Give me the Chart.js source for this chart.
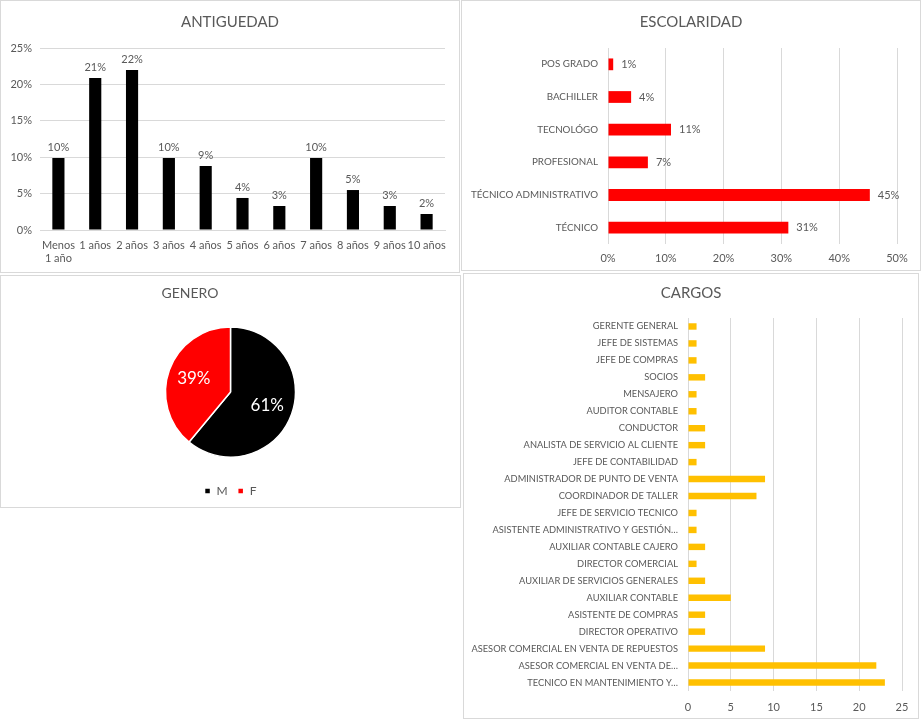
<!DOCTYPE html>
<html><head><meta charset="utf-8">
<script src="https://cdn.jsdelivr.net/npm/chart.js@4.4.0/dist/chart.umd.min.js"></script>
<style>
html,body{margin:0;padding:0;background:#fff;}
body{width:921px;height:720px;position:relative;overflow:hidden;}
.panel{position:absolute;border:1px solid #d9d9d9;box-sizing:border-box;background:#fff;}
.panel canvas{position:absolute;left:0;top:0;}
</style></head><body>
<div class="panel" style="left:0;top:0;width:460px;height:273px;"><canvas id="cA" width="458" height="271"></canvas></div>
<div class="panel" style="left:461px;top:0;width:460px;height:271px;"><canvas id="cB" width="458" height="269"></canvas></div>
<div class="panel" style="left:0;top:275px;width:461px;height:233px;"><canvas id="cC" width="459" height="231"></canvas></div>
<div class="panel" style="left:463px;top:273px;width:456px;height:446px;"><canvas id="cD" width="454" height="444"></canvas></div>
<script>
// ---------- DATA ----------
const antiguedadLabels = [['Menos','1 año'],'1 años','2 años','3 años','4 años','5 años','6 años','7 años','8 años','9 años','10 años'];
const antiguedadValues = [9.89, 20.88, 21.98, 9.89, 8.79, 4.40, 3.30, 9.89, 5.49, 3.30, 2.20];
const antiguedadTicks = [0, 5, 10, 15, 20, 25];

const escolaridadLabels = ['POS GRADO','BACHILLER','TECNOLÓGO','PROFESIONAL','TÉCNICO ADMINISTRATIVO','TÉCNICO'];
const escolaridadValues = [0.9, 4.0, 10.9, 6.9, 45.3, 31.2];
const escolaridadTicks = [0, 10, 20, 30, 40, 50];

const generoLabels = ['M','F'];
const generoValues = [61, 39];

const cargosLabels = ['GERENTE GENERAL','JEFE DE SISTEMAS','JEFE DE COMPRAS','SOCIOS','MENSAJERO','AUDITOR CONTABLE','CONDUCTOR','ANALISTA DE SERVICIO AL CLIENTE','JEFE DE CONTABILIDAD','ADMINISTRADOR DE PUNTO DE VENTA','COORDINADOR DE TALLER','JEFE DE SERVICIO TECNICO','ASISTENTE ADMINISTRATIVO Y GESTIÓN…','AUXILIAR CONTABLE CAJERO','DIRECTOR COMERCIAL','AUXILIAR DE SERVICIOS GENERALES','AUXILIAR CONTABLE','ASISTENTE DE COMPRAS','DIRECTOR OPERATIVO','ASESOR COMERCIAL EN VENTA DE REPUESTOS','ASESOR COMERCIAL EN VENTA DE…','TECNICO EN MANTENIMIENTO Y…'];
const cargosValues = [1,1,1,2,1,1,2,2,1,9,8,1,1,2,1,2,5,2,2,9,22,23];
const cargosTicks = [0, 5, 10, 15, 20, 25];

// ---------- STYLE ----------
const FONT = 'Lato, "Open Sans", sans-serif';
const TXT = '#595959';
const GRID = '#d9d9d9';
Chart.defaults.font.family = FONT;
Chart.defaults.color = TXT;
Chart.defaults.animation = false;

function pct(v){ return Math.round(v) + '%'; }

function labelsPlugin(mode, fmt, font, color, offset){
  return {
    id: 'lbl_' + mode,
    afterDatasetsDraw(chart){
      const ctx = chart.ctx;
      const meta = chart.getDatasetMeta(0);
      const data = chart.data.datasets[0].data;
      ctx.save();
      ctx.font = font; ctx.fillStyle = color;
      meta.data.forEach((el, i) => {
        const t = fmt(data[i]);
        if (mode === 'top') {
          ctx.textAlign = 'center'; ctx.textBaseline = 'bottom';
          ctx.fillText(t, el.x, el.y - offset);
        } else if (mode === 'end') {
          ctx.textAlign = 'left'; ctx.textBaseline = 'middle';
          ctx.fillText(t, el.x + offset, el.y);
        } else if (mode === 'arc') {
          const p = el.getProps(['x','y','startAngle','endAngle','outerRadius'], true);
          const m = (p.startAngle + p.endAngle) / 2;
          ctx.textAlign = 'center'; ctx.textBaseline = 'middle';
          ctx.fillText(t, p.x + Math.cos(m) * p.outerRadius * offset, p.y + Math.sin(m) * p.outerRadius * offset);
        }
      });
      ctx.restore();
    }
  };
}

function fixH(h, padRight){ return function(s){ s.height = h; if (padRight !== undefined) s.paddingRight = padRight; }; }
function fixW(w){ return function(s){ s.width = w; }; }

// ---------- ANTIGUEDAD ----------
new Chart(document.getElementById('cA'), {
  type: 'bar',
  data: { labels: antiguedadLabels, datasets: [{ data: antiguedadValues, backgroundColor: '#000000', barPercentage: 0.33, categoryPercentage: 1 }] },
  options: {
    responsive: false,
    layout: { padding: 0 },
    plugins: {
      legend: { display: false }, tooltip: { enabled: false },
      title: { display: true, text: 'ANTIGUEDAD', color: TXT, font: { size: 15, weight: 'normal' }, padding: { top: 12, bottom: 17 } }
    },
    scales: {
      x: {
        grid: { display: false, drawTicks: false }, border: { display: true, color: GRID },
        ticks: { font: { size: 11 }, color: TXT, padding: 9, maxRotation: 0, autoSkip: false },
        afterFit: fixH(42, 14)
      },
      y: {
        min: 0, max: 25,
        afterBuildTicks: s => { s.ticks = antiguedadTicks.map(v => ({ value: v })); },
        grid: { color: GRID, drawTicks: false }, border: { display: false },
        ticks: { font: { size: 11 }, color: TXT, padding: 8, callback: v => v + '%' },
        afterFit: fixW(39)
      }
    }
  },
  plugins: [labelsPlugin('top', pct, '11px ' + FONT, TXT, 5)]
});

// ---------- ESCOLARIDAD ----------
new Chart(document.getElementById('cB'), {
  type: 'bar',
  data: { labels: escolaridadLabels, datasets: [{ data: escolaridadValues, backgroundColor: '#ff0000', barPercentage: 0.36, categoryPercentage: 1 }] },
  options: {
    indexAxis: 'y',
    responsive: false,
    layout: { padding: 0 },
    plugins: {
      legend: { display: false }, tooltip: { enabled: false },
      title: { display: true, text: 'ESCOLARIDAD', color: TXT, font: { size: 15, weight: 'normal' }, padding: { top: 12, bottom: 17 } }
    },
    scales: {
      x: {
        min: 0, max: 50,
        afterBuildTicks: s => { s.ticks = escolaridadTicks.map(v => ({ value: v })); },
        grid: { color: GRID, drawTicks: false }, border: { display: false },
        ticks: { font: { size: 11 }, color: TXT, padding: 8, callback: v => v + '%' },
        afterFit: fixH(26, 23)
      },
      y: {
        grid: { display: false, drawTicks: false }, border: { display: false },
        ticks: { font: { size: 9.8 }, color: TXT, padding: 10, autoSkip: false },
        afterFit: fixW(146)
      }
    }
  },
  plugins: [labelsPlugin('end', pct, '11px ' + FONT, TXT, 8)]
});

// ---------- GENERO ----------
new Chart(document.getElementById('cC'), {
  type: 'pie',
  data: { labels: generoLabels, datasets: [{ data: generoValues, backgroundColor: ['#000000', '#ff0000'], borderColor: '#ffffff', borderWidth: 1.5, radius: 65 }] },
  options: {
    responsive: false,
    layout: { padding: { top: 33, bottom: 0 } },
    plugins: {
      tooltip: { enabled: false },
      legend: { position: 'bottom', labels: { boxWidth: 6, boxHeight: 6, padding: 10, color: TXT, font: { size: 12 } } },
      title: { display: false }
    }
  },
  plugins: [
    labelsPlugin('arc', v => v + '%', '17px ' + FONT, '#ffffff', 0.6),
    { id: 'generoTitle', afterDraw(chart){ const c = chart.ctx; c.save(); c.font = '14px ' + FONT; c.fillStyle = TXT; c.textAlign = 'center'; c.textBaseline = 'middle'; c.fillText('GENERO', 189, 17); c.restore(); } }
  ]
});

// ---------- CARGOS ----------
new Chart(document.getElementById('cD'), {
  type: 'bar',
  data: { labels: cargosLabels, datasets: [{ data: cargosValues, backgroundColor: '#ffc000', barPercentage: 0.38, categoryPercentage: 1 }] },
  options: {
    indexAxis: 'y',
    responsive: false,
    layout: { padding: 0 },
    plugins: {
      legend: { display: false }, tooltip: { enabled: false },
      title: { display: true, text: 'CARGOS', color: TXT, font: { size: 15, weight: 'normal' }, padding: { top: 10, bottom: 16 } }
    },
    scales: {
      x: {
        min: 0, max: 25,
        afterBuildTicks: s => { s.ticks = cargosTicks.map(v => ({ value: v })); },
        grid: { color: GRID, drawTicks: false }, border: { display: false },
        ticks: { font: { size: 11 }, color: TXT, padding: 10 },
        afterFit: fixH(27, 16)
      },
      y: {
        grid: { display: false, drawTicks: false }, border: { display: false },
        ticks: { font: { size: 9.3 }, color: TXT, padding: 10, autoSkip: false },
        afterFit: fixW(224)
      }
    }
  }
});
</script>
</body></html>
